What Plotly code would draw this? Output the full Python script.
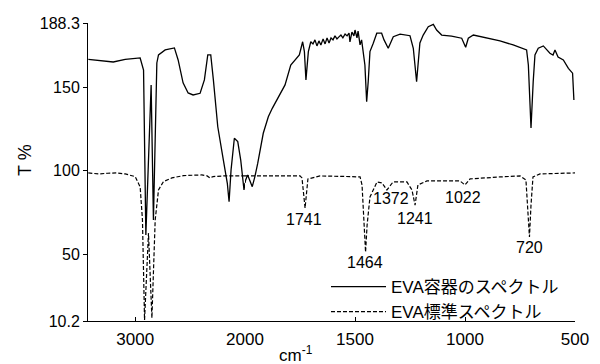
import plotly.graph_objects as go

# ---------------- data ----------------
series_names = ["EVA容器のスペクトル", "EVA標準スペクトル"]

# EVA container spectrum (solid)
solid_wn = [3427, 3200, 3091, 2973, 2955, 2924, 2903, 2855, 2834, 2803, 2788, 2727, 2643, 2609,
            2564, 2518, 2473, 2409, 2370, 2339, 2312, 2288, 2248, 2197, 2161, 2145, 2127, 2097,
            2066, 2039, 2009, 2000, 1997, 1988, 1980, 1967, 1955, 1942, 1917, 1894, 1876, 1856,
            1818, 1792, 1773, 1753, 1738, 1730, 1723, 1712, 1701, 1691, 1682, 1673, 1664, 1655,
            1645, 1636, 1627, 1618, 1609, 1600, 1591, 1582, 1573, 1564, 1555, 1545, 1536, 1527,
            1523, 1514, 1505, 1500, 1491, 1486, 1477, 1470, 1455, 1447, 1440, 1432, 1417, 1401,
            1379, 1368, 1349, 1326, 1295, 1250, 1235, 1220, 1205, 1190, 1167, 1144, 1129, 1106,
            1061, 1015, 997, 985, 962, 901, 841, 781, 720, 712, 708, 700, 690, 682, 667, 644,
            614, 600, 591, 583, 577, 553, 530, 511, 505]
solid_t = [166.6, 165.0, 166.6, 167.4, 167.4, 160.2, 61.6, 151.3, 70.6, 164.4, 169.2, 172.2, 173.4, 166.2,
           152.5, 146.5, 145.3, 146.3, 154.3, 169.2, 169.2, 154.3, 126.3, 106.4, 92.5, 81.5, 100.5, 119.4,
           117.4, 106.4, 88.5, 92.7, 94.5, 97.5, 94.5, 90.5, 96.5, 104.5, 122.4, 132.3, 137.3, 142.3,
           151.3, 163.2, 166.2, 169.2, 177.1, 171.2, 154.3, 171.2, 177.1, 175.8, 178.2, 174.6, 177.6, 175.2,
           178.8, 175.8, 179.4, 176.4, 179.4, 178.2, 180.6, 178.8, 180.0, 181.1, 179.4, 181.7, 180.6, 182.3,
           177.0, 182.9, 180.6, 184.1, 179.4, 183.5, 175.2, 178.2, 163.2, 141.3, 153.2, 171.2, 176.2, 182.2,
           182.2, 178.2, 173.2, 180.1, 181.6, 180.7, 173.2, 153.2, 176.4, 181.1, 186.1, 187.5, 184.1, 181.1,
           180.5, 179.2, 173.8, 179.2, 181.1, 179.5, 177.6, 175.2, 172.2, 163.2, 149.3, 125.6, 153.2, 169.2, 173.2, 174.6,
           170.2, 169.2, 172.2, 169.2, 168.0, 166.2, 161.2, 158.3, 142.3]

# EVA reference spectrum (dashed)
dash_wn = [3427, 3330, 3250, 3164, 3091, 3000, 2955, 2934, 2915, 2879, 2848, 2818, 2788, 2743,
           2666, 2561, 2394, 2345, 2318, 2291, 2200, 2100, 2000, 1900, 1750, 1741, 1727, 1714,
           1659, 1550, 1477, 1468, 1459, 1452, 1445, 1432, 1400, 1377, 1355, 1327, 1264, 1241,
           1227, 1214, 1173, 1023, 1000, 977, 841, 750, 723, 714, 707, 700, 691, 659, 500]
dash_t = [98.7, 98.1, 98.5, 98.7, 98.1, 96.5, 90.3, 70.6, 10.8, 62.8, 12.0, 70.6, 88.5, 93.5,
          95.7, 97.1, 97.5, 96.9, 95.7, 96.5, 96.9, 96.9, 96.9, 96.9, 96.9, 95.7, 77.7, 95.1,
          96.9, 96.6, 96.3, 91.5, 70.6, 51.4, 67.6, 84.3, 93.3, 92.7, 88.5, 93.3, 93.3, 88.5,
          79.5, 91.5, 93.9, 93.9, 91.5, 95.1, 96.3, 96.9, 94.5, 76.5, 60.4, 79.5, 96.3, 98.1, 98.7]

peak_labels = ["1741", "1464", "1372", "1241", "1022", "720"]

y_tickvals = [10.2, 50, 100, 150, 188.3]
y_ticktext = ["10.2", "50", "100", "150", "188.3"]
x_left_ticks = [3000]
x_right_ticks = [2000, 1500, 1000, 500]
x_break = 2000  # x scale changes (half scale above 2000 cm-1)

# ---------------- layout / style ----------------
FONT = "Liberation Sans, Arial, Noto Sans CJK JP, sans-serif"
peak_label_pos = [(1730, 70.6), (1455, 44.9), (1336, 83.7), (1227, 71.2), (1009, 84.3), (705, 54.4)]

# page body has an 8px offset, so the figure is 592x356 and margins are shifted
OFF = 8
PL, PR, PT, PB = 88, 575, 23, 321  # plot area in window pixels


def split(wn, t):
    left = [(w, v) for w, v in zip(wn, t) if w >= x_break]
    right = [(w, v) for w, v in zip(wn, t) if w <= x_break]
    return ([p[0] for p in left], [p[1] for p in left]), ([p[0] for p in right], [p[1] for p in right])


fig = go.Figure()
styles = [dict(color="black", width=1.3), dict(color="black", width=1.2, dash="4px,2px")]
for name, wn, t, st in [(series_names[0], solid_wn, solid_t, styles[0]),
                        (series_names[1], dash_wn, dash_t, styles[1])]:
    (lx, ly), (rx, ry) = split(wn, t)
    fig.add_trace(go.Scatter(x=rx, y=ry, xaxis="x2", yaxis="y", mode="lines", line=st,
                             name=name, legendgroup=name, showlegend=True))
    fig.add_trace(go.Scatter(x=lx, y=ly, xaxis="x", yaxis="y", mode="lines", line=st,
                             name=name, legendgroup=name, showlegend=False))

W, H = 600 - OFF, 364 - OFF
pw, ph = PR - PL, PB - PT
split_frac = (245 - PL) / pw
axis_common = dict(showgrid=False, zeroline=False, showline=True, linecolor="black", linewidth=1,
                   ticks="inside", ticklen=4, tickcolor="black", tickfont=dict(size=17, color="black"),
                   ticklabelstandoff=3)
fig.update_layout(
    width=W, height=H,
    margin=dict(l=PL - OFF, r=W - (PR - OFF), t=PT - OFF, b=H - (PB - OFF), autoexpand=False),
    paper_bgcolor="white", plot_bgcolor="white",
    font=dict(family=FONT, size=16, color="black"),
    xaxis=dict(domain=[0, split_frac], range=[3430, x_break], tickmode="array",
               tickvals=x_left_ticks, ticktext=[str(v) for v in x_left_ticks], anchor="y", **axis_common),
    xaxis2=dict(domain=[split_frac, 1], range=[x_break, 500], tickmode="array",
                tickvals=x_right_ticks, ticktext=[str(v) for v in x_right_ticks], anchor="y", **axis_common),
    yaxis=dict(range=[10.2, 188.3], tickmode="array", tickvals=y_tickvals, ticktext=y_ticktext,
               showgrid=False, zeroline=False, showline=True, linecolor="black", linewidth=1,
               ticks="outside", ticklen=4, tickcolor="black", tickfont=dict(size=16, color="black")),
    legend=dict(x=(326 - PL) / pw, y=(PB - 269) / ph, xanchor="left", yanchor="top",
                bgcolor="rgba(0,0,0,0)", font=dict(size=17), itemwidth=55, tracegroupgap=0),
    showlegend=True,
)

for lab, (px, py) in zip(peak_labels, peak_label_pos):
    fig.add_annotation(x=px, y=py, xref="x2", yref="y", text=lab, showarrow=False,
                       font=dict(size=16), xanchor="center", yanchor="middle")

# axis titles
fig.add_annotation(x=(25 - PL) / pw, y=(PB - 160) / ph, xref="paper", yref="paper",
                   text="T %", textangle=-90, showarrow=False, font=dict(size=18),
                   xanchor="center", yanchor="middle")
fig.add_annotation(x=(296 - PL) / pw, y=(PB - 354) / ph, xref="paper", yref="paper",
                   text="cm<sup>-1</sup>", showarrow=False, font=dict(size=17),
                   xanchor="center", yanchor="middle")

fig.write_html("out.html")
